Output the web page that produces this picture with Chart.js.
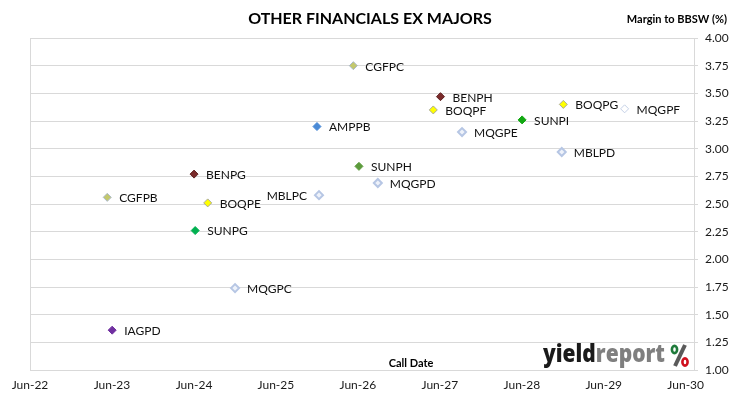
<!DOCTYPE html>
<html>
<head>
<meta charset="utf-8">
<script src="https://cdn.jsdelivr.net/npm/chart.js@4.4.1/dist/chart.umd.min.js"></script>
<style>
  html, body { margin: 0; padding: 0; background: #ffffff; }
  #wrap { width: 730px; height: 399px; position: relative; }
</style>
</head>
<body>
<div id="wrap"><canvas id="c" width="730" height="399"></canvas></div>
<script>
// ---- data ----
const securities = ['CGFPC','BENPH','BOQPF','AMPPB','SUNPH','MQGPD','MBLPC','BOQPG','MQGPF','SUNPI','MQGPE','MBLPD','BENPG','CGFPB','BOQPE','SUNPG','MQGPC','IAGPD'];
const callDates  = ['2026-05-12','2027-06-04','2027-05-03','2025-12-01','2026-06-06','2026-08-29','2025-12-10','2028-12-03','2029-09-02','2028-06-02','2027-09-08','2028-11-26','2024-06-01','2023-05-11','2024-08-01','2024-06-06','2024-12-01','2023-06-02'];
const margins    = [3.75, 3.47, 3.35, 3.20, 2.84, 2.69, 2.58, 3.40, 3.36, 3.26, 3.15, 2.97, 2.77, 2.56, 2.51, 2.26, 1.74, 1.36];
const xTickDates = ['2022-06-01','2023-06-01','2024-06-01','2025-06-01','2026-06-01','2027-06-01','2028-06-01','2029-06-01','2030-06-01'];
const xTickLabels = ['Jun-22','Jun-23','Jun-24','Jun-25','Jun-26','Jun-27','Jun-28','Jun-29','Jun-30'];
const yTickLabels = ['1.00','1.25','1.50','1.75','2.00','2.25','2.50','2.75','3.00','3.25','3.50','3.75','4.00'];
const xRangeDates = ['2022-06-01','2030-07-08'];

// ---- styles (kept separate from data) ----
const markerStyle = {
  CGFPC: {fill:'#C3C86C', stroke:'#A9B7CC', w:1},
  CGFPB: {fill:'#C3C86C', stroke:'#A9B7CC', w:1},
  BENPH: {fill:'#7A2A2A', stroke:'#5E2020', w:1},
  BENPG: {fill:'#7A2A2A', stroke:'#5E2020', w:1},
  BOQPF: {fill:'#FFFF00', stroke:'#A8A89A', w:1},
  BOQPG: {fill:'#FFFF00', stroke:'#A8A89A', w:1},
  BOQPE: {fill:'#FFFF00', stroke:'#A8A89A', w:1},
  AMPPB: {fill:'#4A8AD6', stroke:'#4A8AD6', w:1},
  SUNPH: {fill:'#5C9B3C', stroke:'#5C9B3C', w:1},
  SUNPI: {fill:'#12A812', stroke:'#12A812', w:1},
  SUNPG: {fill:'#00B050', stroke:'#00B050', w:1},
  MQGPD: {fill:'#EEF2FA', stroke:'#B6C6E4', w:2},
  MQGPE: {fill:'#EEF2FA', stroke:'#B6C6E4', w:2},
  MQGPC: {fill:'#EEF2FA', stroke:'#B6C6E4', w:2},
  MBLPC: {fill:'#EEF2FA', stroke:'#B6C6E4', w:2},
  MBLPD: {fill:'#EEF2FA', stroke:'#B6C6E4', w:2},
  MQGPF: {fill:'#FFFFFF', stroke:'#C4D0E6', w:1},
  IAGPD: {fill:'#7030A0', stroke:'#7030A0', w:1}
};
const leftLabels = ['MBLPC'];
const FONT = 'Lato, "Open Sans", sans-serif';

function toYear(s) {
  const [y, m, d] = s.split('-').map(Number);
  const t0 = Date.UTC(y, 0, 1), t1 = Date.UTC(y + 1, 0, 1);
  return y + (Date.UTC(y, m - 1, d) - t0) / (t1 - t0);
}

const points = securities.map((s, i) => ({x: toYear(callDates[i]), y: margins[i], name: s}));
const xTickVals = xTickDates.map(toYear);
const yTickVals = yTickLabels.map(Number);

const decorPlugin = {
  id: 'decor',
  beforeDatasetsDraw(chart) {
    const {ctx, chartArea: a} = chart;
    ctx.save();
    ctx.strokeStyle = '#D9D9D9';
    ctx.lineWidth = 1;
    ctx.beginPath();
    ctx.moveTo(Math.round(a.left) + 0.5, a.top);
    ctx.lineTo(Math.round(a.left) + 0.5, a.bottom);
    ctx.stroke();
    ctx.restore();
  },
  afterDraw(chart) {
    const {ctx} = chart;
    const xs = chart.scales.x, ys = chart.scales.y;
    ctx.save();
    // point labels
    ctx.font = '12px ' + FONT;
    ctx.fillStyle = '#111111';
    ctx.textBaseline = 'middle';
    points.forEach(p => {
      const px = xs.getPixelForValue(p.x), py = ys.getPixelForValue(p.y);
      if (leftLabels.includes(p.name)) {
        ctx.textAlign = 'right';
        ctx.fillText(p.name, px - 12, py + 1);
      } else {
        ctx.textAlign = 'left';
        ctx.fillText(p.name, px + 12, py + 1);
      }
    });
    // title
    ctx.textAlign = 'center';
    ctx.fillStyle = '#000000';
    ctx.font = 'bold 16px ' + FONT;
    ctx.fillText('OTHER FINANCIALS EX MAJORS', 370, 19);
    // y axis title
    ctx.textAlign = 'right';
    ctx.font = 'bold 11px ' + FONT;
    ctx.fillText('Margin to BBSW (%)', 727, 19);
    // x axis title
    ctx.textAlign = 'center';
    ctx.fillText('Call Date', 411, 363);
    ctx.restore();

    // logo
    ctx.save();
    ctx.textAlign = 'left';
    ctx.textBaseline = 'alphabetic';
    ctx.font = '800 25px "Open Sans", Roboto, sans-serif';
    const w1 = ctx.measureText('yield').width;
    const w2 = ctx.measureText('report').width;
    const sx = (665 - 543) / (w1 + w2);
    ctx.translate(543, 362);
    ctx.scale(sx, 1);
    ctx.fillStyle = '#1A1A1A';
    ctx.fillText('yield', 0, 0);
    ctx.fillStyle = '#7F7F7F';
    ctx.fillText('report', w1, 0);
    ctx.restore();
    // percent sign
    ctx.save();
    ctx.strokeStyle = '#5A5A5A';
    ctx.lineWidth = 4;
    ctx.beginPath();
    ctx.moveTo(685, 345); ctx.lineTo(675, 366);
    ctx.stroke();
    ctx.lineWidth = 2.6;
    ctx.strokeStyle = '#1E7A3A';
    ctx.beginPath(); ctx.ellipse(674.5, 349.5, 2.6, 3.6, 0, 0, Math.PI * 2); ctx.stroke();
    ctx.strokeStyle = '#D0101E';
    ctx.beginPath(); ctx.ellipse(685, 362, 2.6, 3.6, 0, 0, Math.PI * 2); ctx.stroke();
    ctx.restore();
  }
};

new Chart(document.getElementById('c'), {
  type: 'scatter',
  data: {
    datasets: [{
      data: points,
      pointStyle: 'rectRot',
      pointRadius: 4,
      pointHoverRadius: 4,
      backgroundColor: points.map(p => markerStyle[p.name].fill),
      borderColor: points.map(p => markerStyle[p.name].stroke),
      borderWidth: points.map(p => markerStyle[p.name].w)
    }]
  },
  options: {
    responsive: false,
    animation: false,
    events: [],
    layout: { padding: { left: 30, top: 38, right: 0, bottom: 0 } },
    plugins: { legend: { display: false }, tooltip: { enabled: false }, title: { display: false } },
    scales: {
      x: {
        type: 'linear',
        min: toYear(xRangeDates[0]),
        max: toYear(xRangeDates[1]),
        afterBuildTicks(scale) { scale.ticks = xTickVals.map(v => ({value: v})); },
        afterFit(scale) { scale.height = 29; },
        grid: { display: false, drawTicks: false },
        border: { display: true, color: '#D9D9D9', width: 1 },
        ticks: {
          autoSkip: false, maxRotation: 0, padding: 8,
          color: '#1a1a1a', font: { family: FONT, size: 12 },
          callback(v) { const i = xTickVals.findIndex(t => Math.abs(t - v) < 1e-6); return i >= 0 ? xTickLabels[i] : ''; }
        }
      },
      y: {
        position: 'right',
        min: 1, max: 4,
        afterBuildTicks(scale) { scale.ticks = yTickVals.map(v => ({value: v})); },
        afterFit(scale) { scale.width = 36; },
        grid: { color: '#D9D9D9', lineWidth: 1, tickLength: 4, drawTicks: true },
        border: { display: true, color: '#D9D9D9', width: 1 },
        ticks: {
          padding: 7, color: '#1a1a1a', font: { family: FONT, size: 12 },
          callback(v) { const i = yTickVals.findIndex(t => Math.abs(t - v) < 1e-6); return i >= 0 ? yTickLabels[i] : ''; }
        }
      }
    }
  },
  plugins: [decorPlugin]
});
</script>
</body>
</html>
